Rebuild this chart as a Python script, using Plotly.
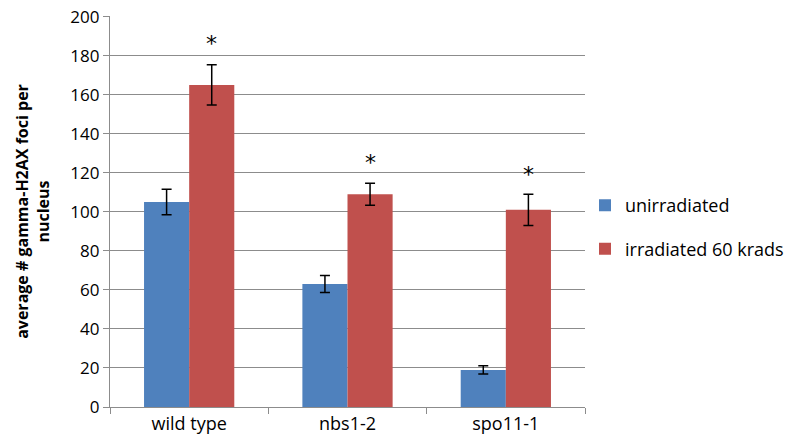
import plotly.graph_objects as go

categories = ["wild type", "nbs1-2", "spo11-1"]
unirradiated = [105, 63, 19]
unirradiated_err = [6.5, 4.4, 2.1]
irradiated = [165, 109, 101]
irradiated_err = [10.3, 5.6, 8]
star_y = [186, 125, 119]

fig = go.Figure()
fig.add_trace(go.Bar(
    x=categories, y=unirradiated, name="unirradiated", legendgroup="a",
    marker=dict(color="#4F81BD", line=dict(width=0)),
    error_y=dict(type="data", array=unirradiated_err, color="black", thickness=1.5, width=5),
))
fig.add_trace(go.Bar(
    x=categories, y=irradiated, name="irradiated 60 krads", legendgroup="b",
    marker=dict(color="#C0504D", line=dict(width=0)),
    error_y=dict(type="data", array=irradiated_err, color="black", thickness=1.5, width=5),
))

for c, sy in zip(categories, star_y):
    fig.add_annotation(x=c, y=sy, text="*", showarrow=False, xshift=22.5,
                       font=dict(size=22, color="black", family="DejaVu Sans"))

fig.update_layout(
    width=788, height=436,
    margin=dict(l=102, r=211, t=8, b=37, autoexpand=False),
    paper_bgcolor="white", plot_bgcolor="white",
    barmode="group", bargap=0.43, bargroupgap=0,
    font=dict(family="Open Sans", size=16, color="black"),
    legend=dict(x=1.0, y=0.46, xanchor="left", yanchor="middle",
                font=dict(size=18), itemwidth=30, tracegroupgap=17,
                traceorder="grouped"),
    showlegend=True,
)
fig.update_yaxes(
    range=[0, 200.3], tickmode="array", tickvals=list(range(0, 201, 20)),
    showgrid=True, gridcolor="#8C8C8C", gridwidth=1.3,
    showline=True, linecolor="#8C8C8C", linewidth=1.3,
    ticks="outside", ticklen=6, tickcolor="#8C8C8C",
    tickfont=dict(size=17), automargin=False, ticklabeloverflow="allow",
    title=dict(text="<b>average # gamma-H2AX foci per<br>nucleus</b>", font=dict(size=16), standoff=16),
    zeroline=False,
)
fig.update_xaxes(
    showline=True, linecolor="#8C8C8C", linewidth=1.3,
    ticks="outside", tickson="boundaries", ticklen=6, tickcolor="#8C8C8C",
    tickfont=dict(size=18), automargin=False, ticklabeloverflow="allow",
)
fig.write_html("out.html")
